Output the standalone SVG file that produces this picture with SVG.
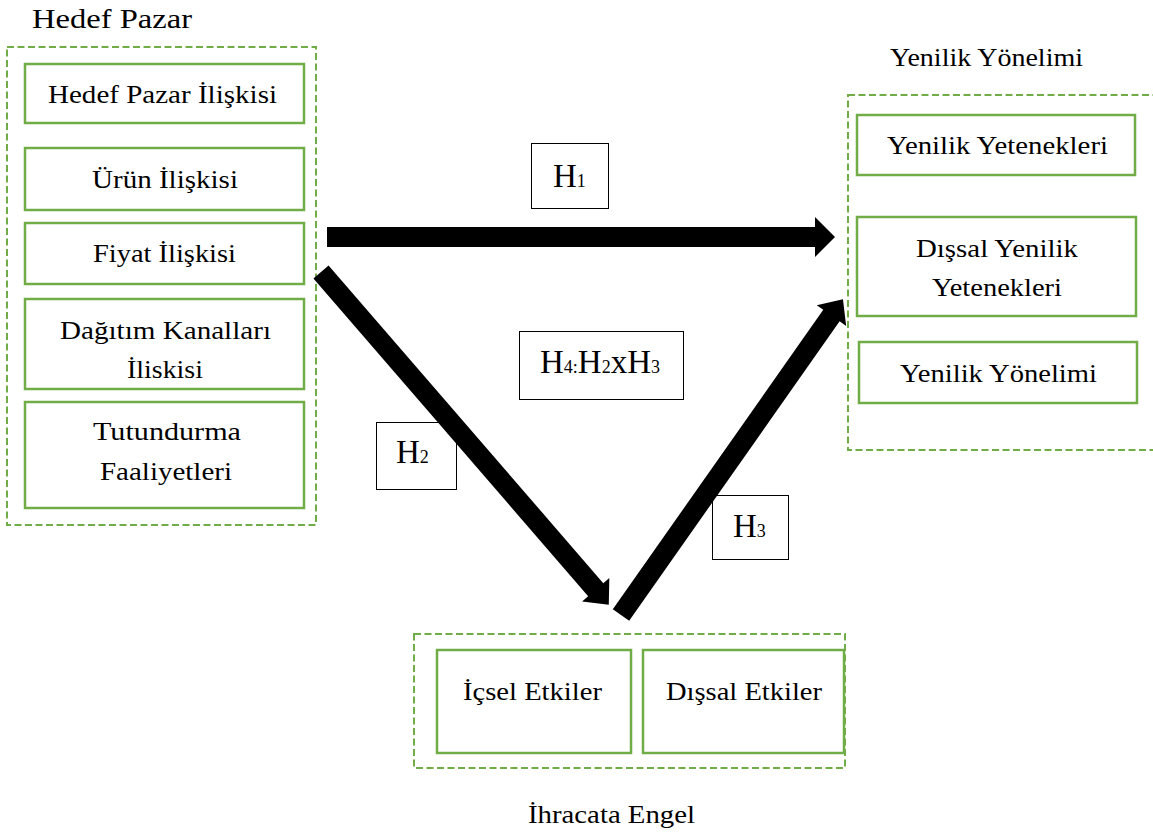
<svg xmlns="http://www.w3.org/2000/svg" width="1153" height="835" viewBox="0 0 1153 835">
<style>
text{font-family:"Liberation Serif","Times New Roman",serif;fill:#000}
.t{font-size:25px}
.title{font-size:27px}
.grp{fill:none;stroke:#70ad47;stroke-width:2;stroke-dasharray:7 3.5}
.box{fill:#fff;stroke:#70ad47;stroke-width:2.5}
.hbox{fill:#fff;stroke:#000;stroke-width:1}
.hb{font-size:33px}
.hs{font-size:18px}
.arrow{fill:#000}
</style>
<rect width="1153" height="835" fill="#fff"/>

<g id="hedef-pazar">
<text class="title" x="32" y="28" textLength="160" lengthAdjust="spacingAndGlyphs">Hedef Pazar</text>
<rect class="grp" x="7" y="47" width="309" height="478"/>
</g>
<g id="hedef-pazar-iliskisi"><rect class="box" x="25" y="64" width="279" height="59"/><text class="t" x="48" y="103" textLength="229" lengthAdjust="spacingAndGlyphs">Hedef Pazar İlişkisi</text></g>
<g id="urun-iliskisi"><rect class="box" x="25" y="148" width="279" height="62"/><text class="t" x="92" y="188" textLength="146" lengthAdjust="spacingAndGlyphs">Ürün İlişkisi</text></g>
<g id="fiyat-iliskisi"><rect class="box" x="25" y="223" width="279" height="61"/><text class="t" x="93" y="262" textLength="143" lengthAdjust="spacingAndGlyphs">Fiyat İlişkisi</text></g>
<g id="dagitim"><rect class="box" x="25" y="299" width="279" height="90"/><text class="t" x="60" y="339" textLength="211" lengthAdjust="spacingAndGlyphs">Dağıtım Kanalları</text><text class="t" x="127" y="378" textLength="76" lengthAdjust="spacingAndGlyphs">İliskisi</text></g>
<g id="tutundurma"><rect class="box" x="25" y="402" width="279" height="106"/><text class="t" x="93" y="440" textLength="148" lengthAdjust="spacingAndGlyphs">Tutundurma</text><text class="t" x="100" y="480" textLength="132" lengthAdjust="spacingAndGlyphs">Faaliyetleri</text></g>

<g id="yenilik-yonelimi-grup">
<text class="t" x="890" y="66" textLength="193" lengthAdjust="spacingAndGlyphs">Yenilik Yönelimi</text>
<rect class="grp" x="848" y="95" width="360" height="355"/>
</g>
<g id="yenilik-yetenekleri"><rect class="box" x="857" y="115" width="278" height="60"/><text class="t" x="887" y="154" textLength="221" lengthAdjust="spacingAndGlyphs">Yenilik Yetenekleri</text></g>
<g id="dissal-yenilik"><rect class="box" x="857" y="217" width="279" height="99"/><text class="t" x="916" y="257" textLength="162" lengthAdjust="spacingAndGlyphs">Dışsal Yenilik</text><text class="t" x="932" y="296" textLength="130" lengthAdjust="spacingAndGlyphs">Yetenekleri</text></g>
<g id="yenilik-yonelimi"><rect class="box" x="859" y="342" width="278" height="61"/><text class="t" x="900" y="382" textLength="197" lengthAdjust="spacingAndGlyphs">Yenilik Yönelimi</text></g>

<g id="ihracata-engel">
<rect class="grp" x="414" y="634" width="431" height="134"/>
<text class="t" x="528" y="823" textLength="167" lengthAdjust="spacingAndGlyphs">İhracata Engel</text>
</g>
<g id="icsel-etkiler"><rect class="box" x="437" y="650" width="194" height="103"/><text class="t" x="463" y="700" textLength="139" lengthAdjust="spacingAndGlyphs">İçsel Etkiler</text></g>
<g id="dissal-etkiler"><rect class="box" x="643" y="650" width="201" height="103"/><text class="t" x="666" y="700" textLength="156" lengthAdjust="spacingAndGlyphs">Dışsal Etkiler</text></g>

<g id="h1"><rect class="hbox" x="531.5" y="143.5" width="77" height="65"/><text x="553" y="187"><tspan class="hb">H</tspan><tspan class="hs">1</tspan></text></g>
<g id="h2"><rect class="hbox" x="376.5" y="422.5" width="80" height="67"/><text x="396" y="463"><tspan class="hb">H</tspan><tspan class="hs">2</tspan></text></g>
<g id="h3"><rect class="hbox" x="712.5" y="495.5" width="76" height="64"/><text x="733" y="537"><tspan class="hb">H</tspan><tspan class="hs">3</tspan></text></g>
<g id="h4"><rect class="hbox" x="519.5" y="331.5" width="164" height="68"/><text x="540" y="373"><tspan class="hb">H</tspan><tspan class="hs">4:</tspan><tspan class="hb">H</tspan><tspan class="hs">2</tspan><tspan class="hb">x</tspan><tspan class="hb">H</tspan><tspan class="hs">3</tspan></text></g>

<g id="connectors">
<polygon class="arrow" points="327,227 815,227 815,217 835,237 815,257 815,247 327,247"/>
<polygon class="arrow" transform="translate(321,272) rotate(49.15)" points="0,-10 420,-10 420,-18 440,0 420,18 420,10 0,10"/>
<polygon class="arrow" transform="translate(621,615) rotate(-54.9)" points="0,-10 366,-10 366,-18 386,0 366,18 366,10 0,10"/>
</g>
</svg>
